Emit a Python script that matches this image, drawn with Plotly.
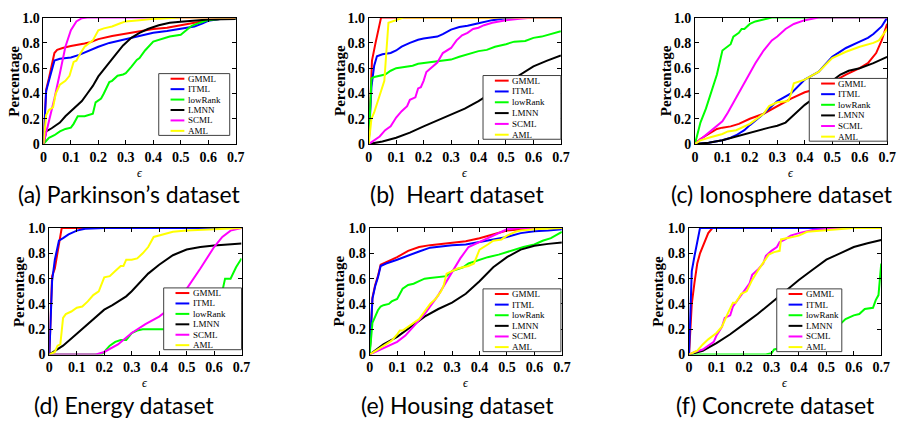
import plotly.graph_objects as go

W, H = 906, 433

SERIES = ["GMML", "ITML", "lowRank", "LMNN", "SCML", "AML"]
COLORS = ["#FF0000", "#0000FF", "#00FF00", "#000000", "#FF00FF", "#FFFF00"]
CAPTIONS = ["(a) Parkinson\u2019s dataset", "(b)\u00a0 Heart dataset", "(c) Ionosphere dataset",
            "(d) Energy dataset", "(e) Housing dataset", "(f) Concrete dataset"]
XTICKS = [0, 0.1, 0.2, 0.3, 0.4, 0.5, 0.6, 0.7]
XTICK_TEXT = ["0", "0.1", "0.2", "0.3", "0.4", "0.5", "0.6", "0.7"]
YTICKS = [0, 0.2, 0.4, 0.6, 0.8, 1.0]
YTICK_TEXT = ["0", "0.2", "0.4", "0.6", "0.8", "1.0"]

# (epsilon, percentage) pairs
A_GMML = [(0,0),(0.01,0.43),(0.02,0.52),(0.03,0.62),(0.04,0.72),(0.05,0.745),(0.07,0.76),(0.1,0.775),(0.13,0.785),(0.15,0.795),(0.17,0.805),(0.2,0.83),(0.25,0.855),(0.3,0.875),(0.35,0.895),(0.4,0.91),(0.45,0.92),(0.5,0.94),(0.55,0.965),(0.6,0.98),(0.65,0.99),(0.7,0.99)]
A_ITML = [(0,0),(0.01,0.42),(0.02,0.5),(0.03,0.58),(0.04,0.66),(0.06,0.675),(0.1,0.685),(0.13,0.705),(0.16,0.735),(0.2,0.77),(0.24,0.8),(0.28,0.82),(0.32,0.84),(0.36,0.86),(0.4,0.88),(0.45,0.895),(0.5,0.915),(0.55,0.93),(0.58,0.955),(0.6,0.975),(0.65,0.99),(0.7,0.99)]
A_LOWRANK = [(0,0),(0.02,0.05),(0.04,0.07),(0.06,0.1),(0.08,0.12),(0.1,0.13),(0.11,0.16),(0.125,0.22),(0.15,0.22),(0.17,0.235),(0.18,0.24),(0.19,0.33),(0.2,0.345),(0.21,0.36),(0.22,0.4),(0.24,0.49),(0.25,0.5),(0.27,0.54),(0.29,0.55),(0.3,0.56),(0.32,0.61),(0.34,0.665),(0.35,0.68),(0.37,0.74),(0.4,0.81),(0.43,0.83),(0.46,0.85),(0.5,0.865),(0.52,0.9),(0.54,0.935),(0.57,0.96),(0.6,0.98),(0.65,0.99),(0.7,0.99)]
A_LMNN = [(0,0),(0.01,0.1),(0.03,0.125),(0.06,0.17),(0.08,0.22),(0.11,0.28),(0.14,0.34),(0.16,0.4),(0.18,0.46),(0.2,0.535),(0.23,0.62),(0.26,0.7),(0.29,0.78),(0.32,0.84),(0.35,0.88),(0.38,0.91),(0.42,0.94),(0.46,0.96),(0.5,0.967),(0.55,0.975),(0.6,0.985),(0.7,0.99)]
A_SCML = [(0,0),(0.02,0.17),(0.04,0.36),(0.06,0.56),(0.08,0.77),(0.1,0.9),(0.12,0.97),(0.14,0.995),(0.16,1.0),(0.7,1.0)]
A_AML = [(0,0),(0.01,0.23),(0.02,0.27),(0.035,0.29),(0.045,0.4),(0.06,0.47),(0.08,0.5),(0.095,0.54),(0.11,0.65),(0.12,0.66),(0.13,0.7),(0.15,0.77),(0.18,0.82),(0.2,0.9),(0.22,0.915),(0.25,0.93),(0.28,0.955),(0.3,0.97),(0.35,0.98),(0.4,0.99),(0.5,1.0),(0.7,1.0)]

B_GMML = [(0,0),(0.005,0.35),(0.012,0.66),(0.025,0.8),(0.045,1.0),(0.7,1.0)]
B_ITML = [(0,0),(0.01,0.45),(0.02,0.62),(0.03,0.695),(0.05,0.71),(0.08,0.72),(0.1,0.74),(0.12,0.77),(0.15,0.8),(0.18,0.825),(0.2,0.835),(0.25,0.85),(0.27,0.87),(0.3,0.905),(0.33,0.925),(0.36,0.935),(0.4,0.955),(0.45,0.98),(0.5,0.995),(0.55,1.0),(0.7,1.0)]
B_LOWRANK = [(0,0),(0.01,0.52),(0.02,0.53),(0.04,0.54),(0.06,0.55),(0.08,0.58),(0.1,0.6),(0.13,0.61),(0.16,0.62),(0.18,0.635),(0.2,0.64),(0.23,0.65),(0.27,0.655),(0.3,0.668),(0.33,0.69),(0.36,0.71),(0.4,0.735),(0.43,0.745),(0.46,0.77),(0.5,0.79),(0.53,0.81),(0.57,0.815),(0.6,0.84),(0.63,0.85),(0.66,0.87),(0.7,0.893)]
B_LMNN = [(0,0),(0.05,0.02),(0.1,0.05),(0.15,0.09),(0.2,0.14),(0.25,0.185),(0.3,0.23),(0.35,0.28),(0.4,0.34),(0.45,0.41),(0.5,0.48),(0.55,0.55),(0.6,0.615),(0.65,0.66),(0.7,0.7)]
B_SCML = [(0,0),(0.02,0.03),(0.04,0.06),(0.06,0.11),(0.08,0.14),(0.1,0.21),(0.12,0.26),(0.14,0.3),(0.15,0.35),(0.17,0.37),(0.18,0.44),(0.19,0.45),(0.2,0.5),(0.21,0.57),(0.23,0.61),(0.25,0.645),(0.27,0.72),(0.29,0.75),(0.3,0.76),(0.32,0.82),(0.34,0.86),(0.36,0.88),(0.38,0.91),(0.4,0.92),(0.42,0.94),(0.45,0.96),(0.5,0.98),(0.55,0.99),(0.6,1.0),(0.7,1.0)]
B_AML = [(0,0),(0.01,0.2),(0.02,0.25),(0.03,0.32),(0.045,0.42),(0.057,0.5),(0.065,0.75),(0.072,0.96),(0.1,0.98),(0.126,1.0),(0.7,1.0)]

C_GMML = [(0,0),(0.02,0.04),(0.05,0.08),(0.08,0.12),(0.1,0.13),(0.13,0.14),(0.16,0.16),(0.2,0.2),(0.25,0.24),(0.3,0.3),(0.35,0.36),(0.4,0.41),(0.45,0.44),(0.5,0.49),(0.55,0.55),(0.6,0.6),(0.63,0.64),(0.66,0.72),(0.68,0.82),(0.7,0.95)]
C_ITML = [(0,0),(0.05,0.01),(0.1,0.03),(0.13,0.05),(0.15,0.07),(0.18,0.11),(0.2,0.15),(0.25,0.24),(0.3,0.34),(0.35,0.4),(0.4,0.51),(0.45,0.57),(0.5,0.69),(0.55,0.76),(0.6,0.81),(0.63,0.84),(0.65,0.87),(0.68,0.93),(0.7,1.0)]
C_LOWRANK = [(0,0),(0.02,0.17),(0.04,0.28),(0.06,0.42),(0.08,0.55),(0.1,0.74),(0.12,0.77),(0.13,0.79),(0.14,0.85),(0.16,0.88),(0.17,0.91),(0.18,0.91),(0.2,0.95),(0.22,0.97),(0.25,0.985),(0.28,1.0),(0.7,1.0)]
C_LMNN = [(0,0),(0.05,0.01),(0.1,0.03),(0.15,0.06),(0.2,0.09),(0.23,0.11),(0.27,0.13),(0.3,0.145),(0.33,0.17),(0.35,0.21),(0.4,0.31),(0.45,0.39),(0.5,0.5),(0.53,0.55),(0.56,0.58),(0.6,0.6),(0.65,0.64),(0.7,0.69)]
C_SCML = [(0,0),(0.05,0.09),(0.08,0.15),(0.1,0.18),(0.12,0.25),(0.15,0.37),(0.18,0.48),(0.2,0.56),(0.22,0.64),(0.25,0.74),(0.28,0.82),(0.3,0.85),(0.33,0.91),(0.36,0.95),(0.4,0.98),(0.45,1.0),(0.7,1.0)]
C_AML = [(0,0),(0.02,0.03),(0.05,0.05),(0.08,0.07),(0.1,0.08),(0.12,0.1),(0.15,0.11),(0.2,0.16),(0.22,0.19),(0.25,0.24),(0.27,0.3),(0.3,0.33),(0.34,0.34),(0.35,0.4),(0.36,0.48),(0.4,0.51),(0.45,0.57),(0.5,0.68),(0.55,0.73),(0.6,0.77),(0.65,0.8),(0.67,0.82),(0.7,0.91)]

D_GMML = [(0,0),(0.01,0.62),(0.02,0.68),(0.03,0.82),(0.045,1.0),(0.7,1.0)]
D_ITML = [(0,0),(0.01,0.58),(0.02,0.75),(0.035,0.9),(0.05,0.92),(0.07,0.95),(0.1,0.98),(0.13,0.995),(0.2,1.0),(0.7,1.0)]
D_LOWRANK = [(0,0),(0.19,0),(0.2,0.02),(0.22,0.07),(0.24,0.1),(0.26,0.115),(0.28,0.115),(0.3,0.17),(0.32,0.19),(0.34,0.2),(0.45,0.2),(0.5,0.21),(0.55,0.25),(0.6,0.35),(0.63,0.5),(0.64,0.6),(0.66,0.6),(0.68,0.69),(0.7,0.76)]
D_LMNN = [(0,0),(0.05,0.07),(0.1,0.165),(0.15,0.26),(0.18,0.32),(0.2,0.355),(0.23,0.39),(0.26,0.43),(0.28,0.46),(0.3,0.5),(0.33,0.57),(0.36,0.64),(0.4,0.71),(0.45,0.785),(0.5,0.83),(0.55,0.85),(0.6,0.862),(0.65,0.87),(0.7,0.877)]
D_SCML = [(0,0),(0.17,0),(0.2,0.02),(0.25,0.08),(0.3,0.17),(0.35,0.24),(0.4,0.3),(0.43,0.35),(0.45,0.4),(0.5,0.52),(0.55,0.68),(0.6,0.85),(0.63,0.93),(0.66,0.98),(0.7,1.0)]
D_AML = [(0,0),(0.02,0.02),(0.03,0.07),(0.04,0.08),(0.05,0.29),(0.06,0.32),(0.08,0.34),(0.1,0.37),(0.12,0.38),(0.14,0.42),(0.16,0.47),(0.18,0.5),(0.2,0.61),(0.22,0.62),(0.24,0.66),(0.26,0.7),(0.27,0.7),(0.28,0.75),(0.3,0.75),(0.32,0.76),(0.34,0.8),(0.36,0.85),(0.38,0.93),(0.4,0.94),(0.42,0.95),(0.45,0.97),(0.5,0.98),(0.6,0.99),(0.7,1.0)]

E_GMML = [(0,0),(0.01,0.45),(0.02,0.55),(0.03,0.62),(0.04,0.71),(0.06,0.73),(0.1,0.77),(0.14,0.82),(0.18,0.85),(0.22,0.865),(0.26,0.875),(0.3,0.885),(0.35,0.895),(0.4,0.92),(0.45,0.95),(0.5,0.98),(0.55,0.99),(0.6,1.0),(0.7,1.0)]
E_ITML = [(0,0),(0.01,0.44),(0.02,0.54),(0.03,0.61),(0.04,0.7),(0.06,0.72),(0.1,0.75),(0.14,0.785),(0.18,0.815),(0.22,0.845),(0.26,0.858),(0.3,0.865),(0.35,0.87),(0.4,0.89),(0.45,0.91),(0.5,0.93),(0.55,0.96),(0.6,0.975),(0.65,0.98),(0.7,0.99)]
E_LOWRANK = [(0,0),(0.01,0.25),(0.02,0.3),(0.03,0.35),(0.04,0.38),(0.05,0.39),(0.07,0.4),(0.08,0.42),(0.1,0.44),(0.12,0.52),(0.14,0.55),(0.16,0.56),(0.18,0.58),(0.2,0.6),(0.22,0.605),(0.24,0.61),(0.28,0.62),(0.3,0.66),(0.34,0.69),(0.36,0.72),(0.4,0.75),(0.43,0.77),(0.47,0.79),(0.5,0.81),(0.53,0.83),(0.56,0.85),(0.6,0.87),(0.63,0.9),(0.66,0.92),(0.7,0.97)]
E_LMNN = [(0,0),(0.05,0.08),(0.1,0.14),(0.15,0.22),(0.2,0.3),(0.25,0.36),(0.3,0.41),(0.35,0.48),(0.4,0.58),(0.45,0.69),(0.5,0.77),(0.55,0.83),(0.6,0.86),(0.65,0.875),(0.7,0.885)]
E_SCML = [(0,0),(0.05,0.05),(0.1,0.1),(0.13,0.15),(0.16,0.22),(0.2,0.32),(0.25,0.47),(0.28,0.58),(0.3,0.66),(0.33,0.76),(0.36,0.85),(0.4,0.89),(0.45,0.94),(0.5,0.99),(0.55,1.0),(0.7,1.0)]
E_AML = [(0,0),(0.05,0.07),(0.08,0.11),(0.1,0.16),(0.11,0.19),(0.12,0.19),(0.14,0.22),(0.16,0.25),(0.18,0.28),(0.2,0.34),(0.22,0.4),(0.24,0.44),(0.26,0.5),(0.27,0.55),(0.28,0.64),(0.3,0.66),(0.32,0.68),(0.34,0.69),(0.36,0.7),(0.38,0.72),(0.4,0.83),(0.43,0.87),(0.45,0.9),(0.48,0.91),(0.5,0.94),(0.53,0.97),(0.55,0.98),(0.6,0.99),(0.7,1.0)]

F_GMML = [(0,0),(0.01,0.4),(0.02,0.57),(0.03,0.72),(0.04,0.8),(0.05,0.85),(0.06,0.9),(0.07,0.96),(0.085,1.0),(0.7,1.0)]
F_ITML = [(0,0),(0.01,0.66),(0.02,0.78),(0.03,0.89),(0.04,1.0),(0.7,1.0)]
F_LOWRANK = [(0,0),(0.28,0),(0.3,0.01),(0.31,0.04),(0.33,0.05),(0.4,0.08),(0.45,0.12),(0.5,0.18),(0.55,0.24),(0.57,0.28),(0.6,0.31),(0.62,0.32),(0.64,0.36),(0.67,0.37),(0.68,0.43),(0.69,0.47),(0.7,0.72)]
F_LMNN = [(0,0),(0.05,0.03),(0.1,0.09),(0.15,0.16),(0.2,0.24),(0.25,0.32),(0.3,0.41),(0.35,0.5),(0.4,0.59),(0.45,0.67),(0.5,0.75),(0.55,0.8),(0.6,0.85),(0.65,0.88),(0.7,0.905)]
F_SCML = [(0,0),(0.02,0.02),(0.05,0.04),(0.07,0.07),(0.09,0.1),(0.1,0.15),(0.12,0.22),(0.13,0.29),(0.15,0.31),(0.16,0.38),(0.18,0.44),(0.2,0.51),(0.22,0.56),(0.23,0.63),(0.25,0.67),(0.27,0.72),(0.28,0.78),(0.3,0.82),(0.32,0.85),(0.33,0.89),(0.35,0.91),(0.37,0.94),(0.4,0.96),(0.45,0.985),(0.5,0.995),(0.55,1.0),(0.7,1.0)]
F_AML = [(0,0),(0.03,0.03),(0.05,0.08),(0.07,0.12),(0.1,0.17),(0.12,0.22),(0.14,0.32),(0.16,0.41),(0.17,0.41),(0.19,0.48),(0.21,0.5),(0.23,0.59),(0.25,0.66),(0.27,0.73),(0.29,0.79),(0.31,0.81),(0.33,0.82),(0.335,0.91),(0.36,0.92),(0.38,0.93),(0.4,0.94),(0.43,0.97),(0.48,0.98),(0.55,0.99),(0.6,1.0),(0.7,1.0)]

PANELS = [
    [A_GMML, A_ITML, A_LOWRANK, A_LMNN, A_SCML, A_AML],
    [B_GMML, B_ITML, B_LOWRANK, B_LMNN, B_SCML, B_AML],
    [C_GMML, C_ITML, C_LOWRANK, C_LMNN, C_SCML, C_AML],
    [D_GMML, D_ITML, D_LOWRANK, D_LMNN, D_SCML, D_AML],
    [E_GMML, E_ITML, E_LOWRANK, E_LMNN, E_SCML, E_AML],
    [F_GMML, F_ITML, F_LOWRANK, F_LMNN, F_SCML, F_AML],
]

# layout geometry (pixels)
AX_X = [(40, 235), (370, 565), (701, 896), (46, 241), (371, 566), (695, 890)]
AX_Y = [(11, 142)] * 3 + [(229, 360)] * 3
LEG_BOX = [(157, 229, 69, 133), (486, 565, 71, 137), (817, 896, 74, 139),
           (162, 241, 291, 355), (486, 565, 292, 357), (784, 850, 292, 357)]
YTITLE_X = [10, 341, 671, 16, 340, 664]
CAPTION_X = [127, 460, 789, 122, 460, 783]
CAPTION_Y = [194, 194, 194, 412, 412, 412]
EPS_Y = [172, 172, 172, 390, 390, 390]

def px(x):
    return x / W

def py(y):
    return 1 - y / H

fig = go.Figure()
layout = dict(width=W, height=H, margin=dict(l=0, r=0, t=0, b=0),
              paper_bgcolor="white", plot_bgcolor="white", showlegend=False)
shapes, annotations = [], []
serif = "Liberation Serif, Times New Roman, serif"

for i, panel in enumerate(PANELS):
    n = "" if i == 0 else str(i + 1)
    xa, ya = "x" + n, "y" + n
    for name, color, pts in zip(SERIES, COLORS, panel):
        fig.add_trace(go.Scatter(x=[p[0] for p in pts], y=[p[1] for p in pts], mode="lines",
                                 name=name, line=dict(color=color, width=2),
                                 xaxis=xa, yaxis=ya, hoverinfo="skip"))
    x0, x1 = AX_X[i]
    y0, y1 = AX_Y[i]
    axis_common = dict(showgrid=False, zeroline=False, showline=True, linecolor="black",
                       linewidth=1, mirror="ticks", ticks="inside", ticklen=4,
                       tickcolor="black",
                       tickfont=dict(family=serif, size=14, color="black", weight="bold"))
    layout["xaxis" + n] = dict(axis_common, domain=[px(x0), px(x1)], range=[0, 0.7],
                               tickvals=XTICKS, ticktext=XTICK_TEXT, anchor=ya)
    layout["yaxis" + n] = dict(axis_common, domain=[py(y1), py(y0)], range=[0, 1],
                               tickvals=YTICKS, ticktext=YTICK_TEXT, anchor=xa)
    annotations.append(dict(text="<b>Percentage</b>", x=px(YTITLE_X[i]), y=py((y0 + y1) / 2),
                            xref="paper", yref="paper", textangle=-90, showarrow=False,
                            font=dict(family=serif, size=15, color="black"),
                            xanchor="center", yanchor="middle"))
    annotations.append(dict(text="<i>\u03f5</i>", x=px((x0 + x1) / 2), y=py(EPS_Y[i]),
                            xref="paper", yref="paper", showarrow=False,
                            font=dict(family=serif, size=12, color="black"),
                            xanchor="center", yanchor="middle"))
    annotations.append(dict(text=CAPTIONS[i], x=px(CAPTION_X[i]), y=py(CAPTION_Y[i]),
                            xref="paper", yref="paper", showarrow=False,
                            font=dict(family="Lato, sans-serif", size=23, color="black"),
                            xanchor="center", yanchor="middle"))
    lx0, lx1, ly0, ly1 = LEG_BOX[i]
    shapes.append(dict(type="rect", xref="paper", yref="paper", x0=px(lx0), x1=px(lx1),
                       y0=py(ly1), y1=py(ly0), fillcolor="white",
                       line=dict(color="#404040", width=1), layer="above"))
    step = (ly1 - ly0 - 10) / 5.0
    for k, (name, color) in enumerate(zip(SERIES, COLORS)):
        yy = ly0 + 5.3 + k * step
        shapes.append(dict(type="line", xref="paper", yref="paper",
                           x0=px(lx0 + 12), x1=px(lx0 + 26), y0=py(yy), y1=py(yy),
                           line=dict(color=color, width=2), layer="above"))
        annotations.append(dict(text=name, x=px(lx0 + 27.5), y=py(yy), xref="paper", yref="paper",
                                showarrow=False, xanchor="left", yanchor="middle",
                                font=dict(family=serif, size=9, color="black")))

layout["shapes"] = shapes
layout["annotations"] = annotations
fig.update_layout(**layout)
fig.write_html("out.html", config={"displayModeBar": False, "staticPlot": True},
               post_script="document.body.style.margin='0px';document.body.style.padding='0px';")
